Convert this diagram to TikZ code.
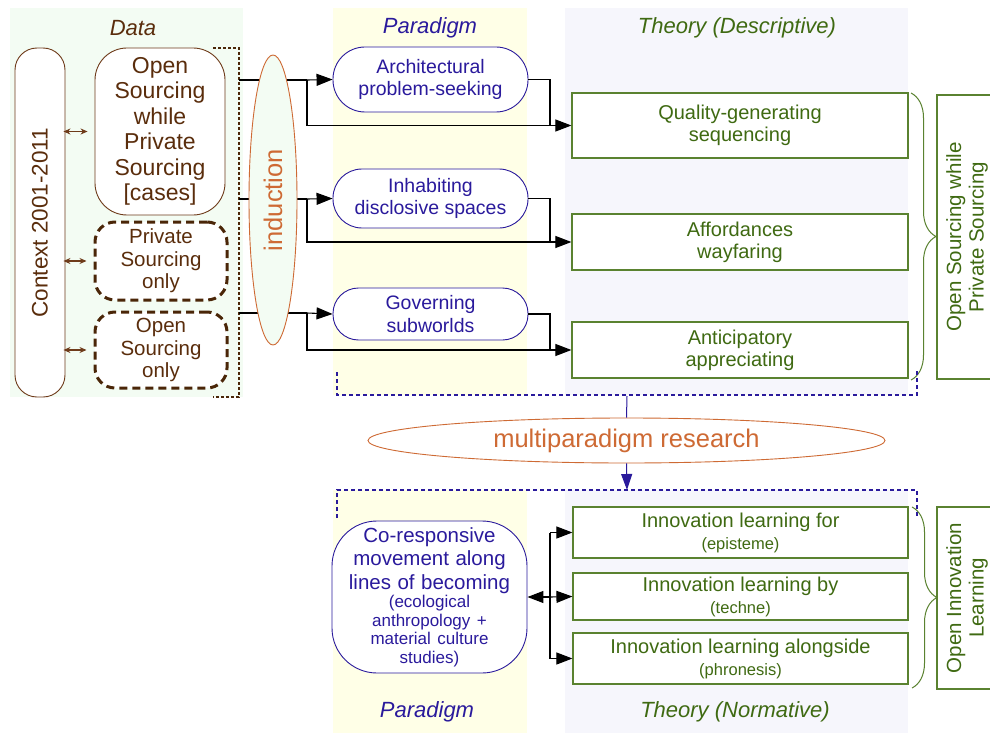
\documentclass[tikz,border=0pt]{standalone}
\usepackage{fontspec}
\setmainfont{Liberation Sans}
\usetikzlibrary{arrows.meta,shapes.geometric,decorations.pathreplacing}
\definecolor{brn}{HTML}{5A2D0C}
\definecolor{brnline}{HTML}{6E3B1A}
\definecolor{dbrn}{HTML}{4A2608}
\definecolor{pblue}{HTML}{2A1A9C}
\definecolor{tgreen}{HTML}{3F6A12}
\definecolor{gline}{HTML}{5A8230}
\definecolor{orng}{HTML}{CE6A34}
\definecolor{bgdata}{HTML}{F3FCF3}
\definecolor{bgpar}{HTML}{FFFFE7}
\definecolor{bgth}{HTML}{F6F6FC}
\newcommand\myfs[2]{\fontsize{#1}{#2}\selectfont}
\tikzset{
  box/.style={inner sep=0pt, align=center},
  databox/.style={box, draw=brnline, fill=white, line width=0.9pt, text=brn, rounded corners=32pt, font=\myfs{23}{25.5}},
  dashbox/.style={box, draw=dbrn, fill=white, line width=3pt, dash pattern=on 8pt off 5pt, text=brn, rounded corners=20pt, font=\myfs{20.5}{22.5}},
  parbox/.style={box, draw=pblue, fill=white, line width=0.9pt, text=pblue, font=\myfs{19.5}{22.5}},
  thbox/.style={box, draw=gline, fill=white, line width=1.2pt, text=tgreen, font=\myfs{20}{22}},
  sidebox/.style={box, draw=gline, fill=white, line width=1.2pt, text=tgreen, font=\myfs{20.5}{22.5}, rotate=90},
  collabel/.style={font=\myfs{22}{24}\itshape},
  arr/.style={-{Triangle[length=16pt,width=12pt]}, line width=1.1pt, black},
  ln/.style={line width=1.1pt, black},
  dbl/.style={{Stealth[length=7pt,width=6pt]}-{Stealth[length=7pt,width=6pt]}, line width=1.1pt, brnline},
  brkt/.style={dbrn, line width=1.3pt, dash pattern=on 3pt off 2pt},
  bdash/.style={pblue, line width=1.8pt, dash pattern=on 4pt off 3pt},
  brc/.style={gline, line width=1pt, decorate, decoration={brace, amplitude=25pt}},
}
\begin{document}
\begin{tikzpicture}[x=1pt,y=-1pt]
\useasboundingbox (0,0) rectangle (990,733);
\clip (0,0) rectangle (990,733);
\fill[white] (0,0) rectangle (990,733);
% backgrounds
\fill[bgdata] (10,8) rectangle (243,397);
\fill[bgpar] (333,8) rectangle (527,395);
\fill[bgth] (565,8) rectangle (908,395);
\fill[bgpar] (333,490) rectangle (527,733);
\fill[bgth] (565,490) rectangle (908,733);
% column labels
\node[collabel, text=brn] (ldata) at (133,28) {Data};
\node[collabel, text=pblue] (lpar1) at (430,28) {Paradigm};
\node[collabel, text=tgreen] (lth1) at (737,28) {Theory (Descriptive)};
\node[collabel, text=pblue] (lpar2) at (427,712) {Paradigm};
\node[collabel, text=tgreen] (lth2) at (735,712) {Theory (Normative)};
% data column
\node[databox, rotate=90, minimum width=349pt, minimum height=50pt, rounded corners=22pt, font=\myfs{22.5}{25}] (ctx) at (40,222.5) {Context 2001-2011};
\node[databox, minimum width=130pt, minimum height=167pt] (dcase) at (160,131.5) {Open\\Sourcing\\while\\Private\\Sourcing\\{[cases]}};
\node[dashbox, minimum width=132pt, minimum height=78pt] (dpriv) at (161,261) {Private\\Sourcing\\only};
\node[dashbox, minimum width=132pt, minimum height=76pt] (dopen) at (161,350) {Open\\Sourcing\\only};
\draw[dbl, shorten <=-2pt, shorten >=7pt] (ctx.south |- dcase.west) -- (dcase.west);
\draw[dbl, shorten <=-2pt, shorten >=7pt] (ctx.south |- dpriv.west) -- (dpriv.west);
\draw[dbl, shorten <=-2pt, shorten >=7pt] (ctx.south |- dopen.west) -- (dopen.west);
\draw[brkt] (213,48) -- (239,48) -- (239,397) -- (213,397);
\coordinate (b1) at (239,80);
\coordinate (b2) at (239,199);
\coordinate (b3) at (239,313);
\coordinate (j1) at (307,80);
\coordinate (j2) at (307,199);
\coordinate (j3) at (307,313);
\coordinate (m1) at (550,125.5);
\coordinate (m2) at (550,242);
\coordinate (m3) at (550,350);
% paradigm nodes
\node[parbox, minimum width=195pt, minimum height=65pt, rounded corners=32pt] (arch) at (430.5,79.5) {Architectural\\problem-seeking};
\node[parbox, minimum width=195pt, minimum height=59pt, rounded corners=29pt] (inh) at (430.5,198.5) {Inhabiting\\disclosive spaces};
\node[parbox, minimum width=195pt, minimum height=52pt, rounded corners=25.5pt] (gov) at (430.5,314) {Governing\\subworlds};
% theory nodes
\node[thbox, minimum width=336pt, minimum height=65pt] (qual) at (740,125.5) {Quality-generating\\sequencing};
\node[thbox, minimum width=336pt, minimum height=56pt] (aff) at (740,242) {Affordances\\wayfaring};
\node[thbox, minimum width=336pt, minimum height=56pt] (anti) at (740,350) {Anticipatory\\appreciating};
% connectors top
\draw[ln] (b1) -- (j1); \draw[arr] (j1) -- (arch.west); \draw[arr] (j1) |- (qual.west);
\draw[ln] (b2) -- (j2); \draw[arr] (j2) -- (inh.west); \draw[arr] (j2) |- (aff.west);
\draw[ln] (b3) -- (j3); \draw[arr] (j3) -- (gov.west); \draw[arr] (j3) |- (anti.west);
\draw[ln] (arch.east) -| (m1);
\draw[ln] (inh.east) -| (m2);
\draw[ln] (gov.east) -| (m3);
% induction ellipse
\node[ellipse, draw=orng, fill=bgdata, line width=0.9pt, rotate=90, minimum width=290pt, minimum height=48pt, inner sep=0pt, text=orng, font=\myfs{25.5}{28}] (ind) at (273,200) {induction};
% brace and side box top
\draw[brc] (911,93) -- (911,380);
\node[sidebox, minimum width=284pt, minimum height=60pt] (sb1) at (967,237) {Open Sourcing while\\Private Sourcing};
% dashed frames and multiparadigm
\draw[bdash] (337,372) -- (337,395) -- (917,395) -- (917,370);
\draw[bdash] (337,518) -- (337,490) -- (917,490) -- (917,518);
\coordinate (ftop) at (627,396);
\coordinate (fbot) at (627,490);
\node[ellipse, draw=orng, fill=white, line width=0.9pt, minimum width=517pt, minimum height=45pt, inner sep=0pt, text=orng, font=\myfs{25.5}{28}] (mp) at (626.5,440.5) {multiparadigm research};
\draw[pblue, line width=1pt] (ftop) -- (mp.north);
\draw[pblue, line width=1pt, -{Triangle[length=16pt,width=11pt]}] (mp.south) -- (fbot);
% bottom
\node[parbox, minimum width=195pt, minimum height=152pt, rounded corners=45pt, text width=190pt] (co) at (429.5,597) {\myfs{20.5}{23.5}Co-responsive\\movement along\\lines of becoming\par\myfs{17}{18.5}(ecological\\anthropology +\\material culture\\studies)\par};
\node[thbox, minimum width=335pt, minimum height=51pt] (e1) at (740.5,532.5) {Innovation learning for\\{\myfs{16.5}{18}(episteme)}};
\node[thbox, minimum width=335pt, minimum height=47pt] (e2) at (740.5,596.5) {Innovation learning by\\{\myfs{16.5}{18}(techne)}};
\node[thbox, minimum width=335pt, minimum height=51pt] (e3) at (740.5,658.5) {Innovation learning alongside\\{\myfs{16.5}{18}(phronesis)}};
\coordinate (v1) at (550,532.5);
\coordinate (v2) at (550,597);
\coordinate (v3) at (550,658.5);
\draw[ln] (v1) -- (v3);
\draw[arr] (v2) -- (co.east);
\draw[arr] (v1) -- (e1.west);
\draw[arr] (v2) -- (e2.west);
\draw[arr] (v3) -- (e3.west);
\draw[brc] (912,507) -- (912,688);
\node[sidebox, minimum width=182pt, minimum height=60pt] (sb2) at (967,598) {Open Innovation\\Learning};
\end{tikzpicture}
\end{document}
